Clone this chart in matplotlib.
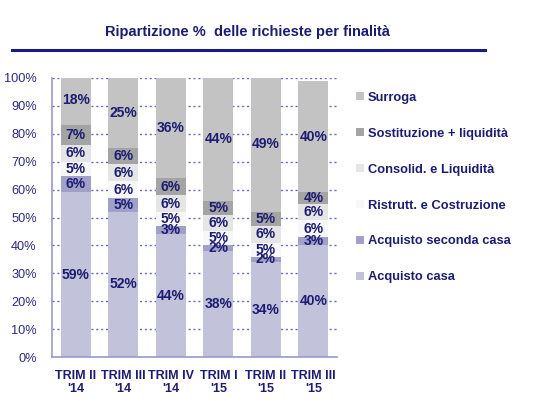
import matplotlib.pyplot as plt
from matplotlib.lines import Line2D
from matplotlib.patches import Patch

trimestri = ["TRIM II\n'14", "TRIM III\n'14", "TRIM IV\n'14", "TRIM I\n'15", "TRIM II\n'15", "TRIM III\n'15"]
serie = ["Acquisto casa", "Acquisto seconda casa", "Ristrutt. e Costruzione",
         "Consolid. e Liquidità", "Sostituzione + liquidità", "Surroga"]
acquisto_casa = [59, 52, 44, 38, 34, 40]
seconda_casa = [6, 5, 3, 2, 2, 3]
ristrutt = [5, 6, 5, 5, 5, 6]
consolid = [6, 6, 6, 6, 6, 6]
sostituzione = [7, 6, 6, 5, 5, 4]
surroga = [18, 25, 36, 44, 49, 40]
colori = ["#c2c2da", "#a0a0c8", "#f7f7f7", "#e5e5e5", "#a4a4a4", "#c3c3c3"]

navy = "#1c1c72"
plt.rcParams['font.family'] = ['Liberation Sans', 'DejaVu Sans']

fig = plt.figure(figsize=(5.5, 4.01), dpi=100)
ax = fig.add_axes([0.0945, 0.1097, 0.5185, 0.6958])

valori = [acquisto_casa, seconda_casa, ristrutt, consolid, sostituzione, surroga]
x = range(len(trimestri))
base = [0] * len(trimestri)
for nome, vals, col in zip(serie, valori, colori):
    ax.bar(x, vals, width=0.63, bottom=base, color=col, zorder=2)
    for i, v in enumerate(vals):
        ax.text(i, base[i] + v / 2, f"{v}%", ha='center', va='center',
                fontsize=10, fontweight='bold', color=navy, zorder=3)
    base = [b + v for b, v in zip(base, vals)]

ax.set_xlim(-0.5, 5.5)
ax.set_ylim(0, 100)
ax.set_yticks(range(0, 101, 10))
ax.set_yticklabels([f"{t}%" for t in range(0, 101, 10)], fontsize=9.2, color="#2a2a80")
ax.set_xticks(list(x))
ax.set_xticklabels(trimestri, fontsize=9, fontweight='bold', color=navy)
ax.tick_params(axis='x', length=0, pad=9)
ax.tick_params(axis='y', length=0, pad=11)
ax.yaxis.grid(True, linestyle=(0, (1.5, 2)), color="#6a6ab8", linewidth=1, zorder=0)
ax.set_axisbelow(True)
for s in ['top', 'right']:
    ax.spines[s].set_visible(False)
for s in ['left', 'bottom']:
    ax.spines[s].set_color("#9a9acc")
    ax.spines[s].set_linewidth(1.2)

# legenda a destra, dall'alto
handles = [Patch(facecolor=c, edgecolor='none') for c in colori][::-1]
leg = fig.legend(handles, serie[::-1], loc='upper left', bbox_to_anchor=(0.627, 0.8),
                 frameon=False, handlelength=0.6, handleheight=0.6, handletextpad=0.3,
                 labelspacing=1.85, prop={'size': 9.3, 'weight': 'bold'})
for t in leg.get_texts():
    t.set_color(navy)

fig.text(0.449, 0.92, "Ripartizione %  delle richieste per finalità", ha='center', va='center',
         fontsize=10.5, fontweight='bold', color=navy)
fig.add_artist(Line2D([12 / 550, 485 / 550], [1 - 50 / 401] * 2, color="#1a1a80", linewidth=2.2))

fig.savefig("out.png", dpi=100)
